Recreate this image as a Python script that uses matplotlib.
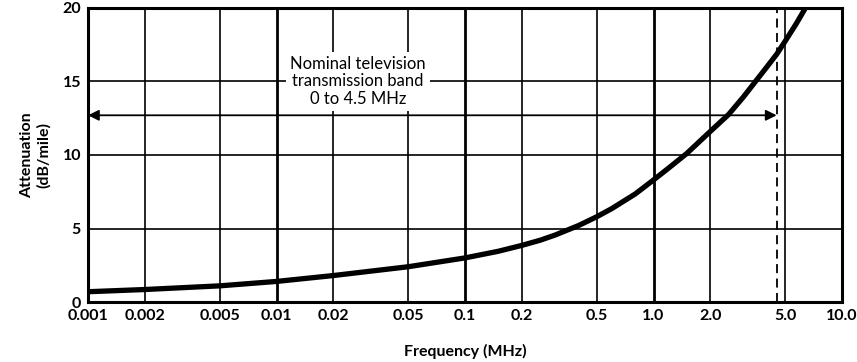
import matplotlib
matplotlib.use("Agg")
import matplotlib.pyplot as plt

# Attenuation curve
freq_mhz = [0.001, 0.002, 0.005, 0.01, 0.02, 0.05, 0.1, 0.15, 0.2, 0.25,
            0.3, 0.4, 0.5, 0.6, 0.8, 1.0, 1.2, 1.5, 2.0, 2.5, 3.0, 3.5,
            4.0, 4.5, 5.0, 5.7, 6.4]
atten_db = [0.7, 0.85, 1.1, 1.4, 1.8, 2.4, 3.0, 3.45, 3.85, 4.2,
            4.55, 5.2, 5.8, 6.35, 7.35, 8.3, 9.1, 10.1, 11.6, 12.75, 13.95,
            15.05, 16.0, 16.85, 17.75, 18.9, 20.0]

x_ticks = [0.001, 0.002, 0.005, 0.01, 0.02, 0.05, 0.1, 0.2, 0.5,
           1.0, 2.0, 5.0, 10.0]
x_tick_labels = ["0.001", "0.002", "0.005", "0.01", "0.02", "0.05",
                 "0.1", "0.2", "0.5", "1.0", "2.0", "5.0", "10.0"]
y_ticks = [0, 5, 10, 15, 20]

band_edge = 4.5
band_arrow_y = 12.7
band_text = "Nominal television\ntransmission band\n0 to 4.5 MHz"

plt.rcParams["font.family"] = ["Lato", "DejaVu Sans"]

fig = plt.figure(figsize=(8.57, 3.62), dpi=100)
ax = fig.add_axes([0.1027, 0.1657, 0.8798, 0.8123])

ax.set_xscale("log")
ax.set_xlim(0.001, 10.0)
ax.set_ylim(0, 20)

# Grid lines, decades a bit heavier
for xv in x_ticks[1:-1]:
    heavy = xv in (0.01, 0.1, 1.0)
    ax.axvline(xv, color="black", lw=2.0 if heavy else 1.2, zorder=1)
for yv in y_ticks[1:-1]:
    ax.axhline(yv, color="black", lw=1.2, zorder=1)

# Band edge
ax.axvline(band_edge, color="black", lw=1.3, ls=(0, (5, 3)), zorder=2)

# Band arrow
ax.annotate(
    "", xy=(0.001, band_arrow_y), xytext=(band_edge, band_arrow_y),
    arrowprops=dict(arrowstyle="<|-|>", color="black", lw=1.3,
                    mutation_scale=16, shrinkA=0, shrinkB=0),
    zorder=3
)

ax.text(
    0.027, 15.0, band_text, ha="center", va="center",
    fontsize=12, linespacing=1.1, zorder=4,
    bbox=dict(facecolor="white", edgecolor="none", pad=3)
)

ax.plot(freq_mhz, atten_db, color="black", lw=3.8,
        solid_capstyle="butt", solid_joinstyle="round", zorder=5)

ax.set_xticks(x_ticks)
ax.set_xticklabels(x_tick_labels)
ax.minorticks_off()
ax.set_yticks(y_ticks)
ax.tick_params(length=0, labelsize=11.5, pad=5)
for lab in ax.get_xticklabels() + ax.get_yticklabels():
    lab.set_fontweight("bold")

for sp in ax.spines.values():
    sp.set_linewidth(2.2)

ax.set_xlabel("Frequency (MHz)", fontsize=11.5, fontweight="bold",
              labelpad=15)
ax.set_ylabel("Attenuation\n(dB/mile)", fontsize=11.5, fontweight="bold",
              labelpad=8)

fig.savefig("out.png", dpi=100)
